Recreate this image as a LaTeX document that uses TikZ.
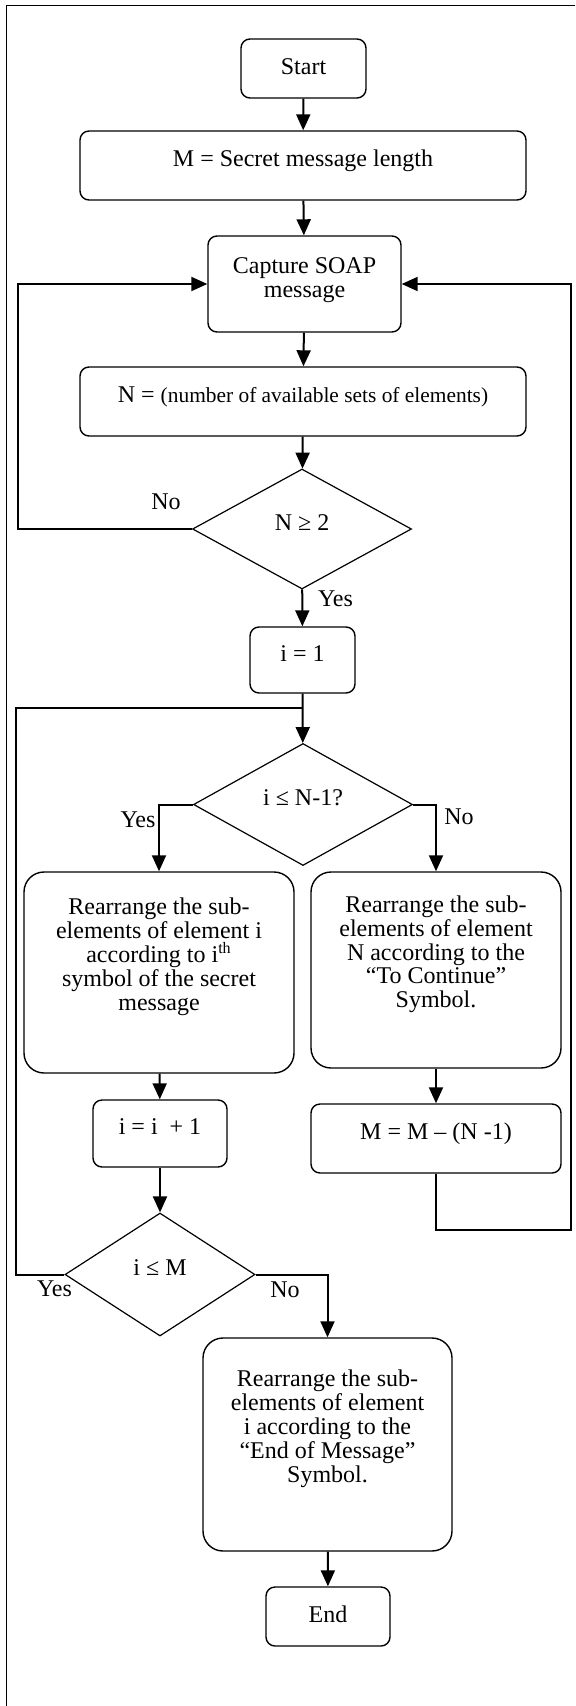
\documentclass[tikz,border=0pt]{standalone}
\usepackage{fontspec}
\setmainfont{Liberation Serif}
\usetikzlibrary{arrows.meta,shapes.geometric}

\begin{document}
\begin{tikzpicture}[
  x=0.5pt, y=-0.5pt,
  >={Triangle[length=8pt,width=7pt]},
  font=\fontsize{12}{11.9}\selectfont,
  term/.style={draw, line width=0.7pt, rounded corners=4.5pt, inner sep=0pt, text height=8.5pt, text depth=2.5pt},
  procbox/.style={draw, line width=0.7pt, rounded corners=4.5pt, align=center, inner sep=0pt, text height=8.5pt, text depth=7.5pt},
  tallbox/.style={draw, line width=0.7pt, rounded corners=10pt, align=center, inner sep=0pt, text height=56.1pt, text depth=18.5pt},
  decide/.style={draw, diamond, line width=0.6pt, inner sep=0pt, text height=8.5pt, text depth=7.5pt},
  flow/.style={->, line width=1pt},
  lbl/.style={inner sep=0pt}
]
\useasboundingbox (0,0) rectangle (575,1706);

% Frame (cut at right and bottom)
\draw[line width=0.5pt] (575,6) -- (6,6) -- (6,1706);

% Nodes (vertical layout)
\node[term, minimum width=62.5pt, minimum height=29.5pt] (start) at (303.5,68.5) {Start};
\node[procbox, minimum width=223pt, minimum height=34.5pt] (mlen) at (303,165.5) {M = Secret message length};
\node[procbox, minimum width=96.5pt, minimum height=48pt, text height=20.4pt, text depth=6.9pt] (capture) at (304.5,284) {Capture SOAP\\message};
\node[procbox, minimum width=223pt, minimum height=34.5pt] (navail) at (303,401.5)
  {N = {\fontsize{10.7}{11.9}\selectfont (number of available sets of elements)}};
\node[decide, minimum width=109.5pt, minimum height=60pt] (dN) at (302,529) {N ≥ 2};
\node[procbox, minimum width=52.5pt, minimum height=33pt] (ione) at (302.5,660) {i = 1};
\node[decide, minimum width=109.5pt, minimum height=61pt] (dI) at (303,804.5) {i ≤ N-1?};

\node[tallbox, minimum width=135pt, minimum height=100.5pt] (bigL) at (159,972.5)
  {Rearrange the sub-\\elements of element i\\according to i\textsuperscript{th}\\symbol of the secret\\message};
\node[tallbox, minimum width=125pt, minimum height=98pt] (bigR) at (436,970)
  {Rearrange the sub-\\elements of element\\N according to the\\“To Continue”\\Symbol.};

\node[procbox, minimum width=67pt, minimum height=33.5pt] (iinc) at (160,1133.5) {i = i~ + 1};
\node[procbox, minimum width=125pt, minimum height=34.5pt] (mupd) at (436,1138.5) {M = M – (N -1)};
\node[decide, minimum width=95pt, minimum height=61.5pt] (dM) at (160,1274.5) {i ≤ M};

\node[tallbox, minimum width=124.5pt, minimum height=106.5pt] (endmsg) at (327.5,1444.5)
  {Rearrange the sub-\\elements of element\\i according to the\\“End of Message”\\Symbol.};
\node[term, minimum width=62pt, minimum height=29.5pt] (endn) at (328,1616.5) {End};

% Branch labels
\node[lbl] (noN) at (166,502) {No};
\node[lbl] (yesN) at (335.5,599) {Yes};
\node[lbl] (yesI) at (138,820) {Yes};
\node[lbl] (noI) at (459,817) {No};
\node[lbl] (yesM) at (54.5,1289) {Yes};
\node[lbl] (noM) at (285,1290) {No};

% Bends of the loops
\coordinate (noturn) at (18,529);
\coordinate (yesturn) at (16,1274.5);
\coordinate (join) at (303,708);
\coordinate (backturn) at (571,1230);

% Main flow
\draw[flow] (start) -- (mlen);
\draw[flow] (mlen) -- (capture);
\draw[flow] (capture) -- (navail);
\draw[flow] (navail) -- (dN);
\draw[flow] (dN) -- (ione);
\draw[flow] (ione) -- (dI);
\draw[flow] (dI.west) -| (bigL);
\draw[flow] (dI.east) -| (bigR);
\draw[flow] (bigL) -- (iinc);
\draw[flow] (bigR) -- (mupd);
\draw[flow] (iinc) -- (dM);
\draw[flow] (dM.east) -| (endmsg);
\draw[flow] (endmsg) -- (endn);

% Loops back
\draw[flow] (dN.west) -- (noturn) |- (capture.west);
\draw[line width=1pt] (dM.west) -- (yesturn) |- (join);
\draw[flow] (mupd.south) |- (backturn) |- (capture.east);

\end{tikzpicture}
\end{document}
